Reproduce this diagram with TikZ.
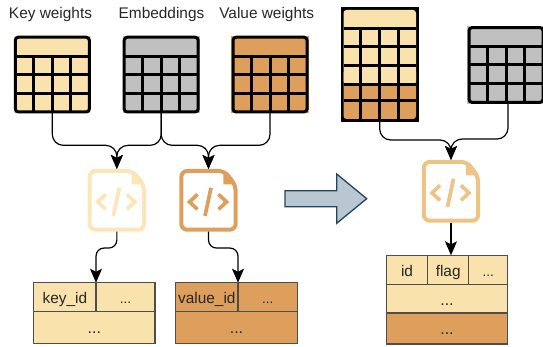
\documentclass[tikz,border=0pt]{standalone}
\usepackage{fontspec}
\setmainfont{Liberation Sans}
\usetikzlibrary{arrows.meta}
\definecolor{keyfill}{HTML}{FAE2AC}
\definecolor{valuefill}{HTML}{DD9F5B}
\definecolor{grayfill}{HTML}{C0C0C0}
\definecolor{keydocline}{HTML}{FCE5B8}
\definecolor{mergedocline}{HTML}{EEC486}
\definecolor{cellline}{HTML}{4D4D4D}
\definecolor{bigarrowfill}{HTML}{B9C7D3}
\definecolor{bigarrowline}{HTML}{23445D}
\tikzset{
	wtable/.style={draw=black, line width=3pt, rounded corners=3pt, inner sep=0pt, outer sep=0pt, minimum width=74pt, minimum height=74.7pt},
	gridline/.style={draw=black, line width=3pt},
	docbox/.style={inner sep=0pt, outer sep=0pt, minimum width=58.4pt, minimum height=62.8pt},
	link/.style={draw=black, line width=1.2pt, rounded corners=#1, -{Stealth[length=14pt, width=12pt, inset=3pt]}},
	cell/.style={draw=cellline, line width=1.4pt, anchor=north west, inner sep=0pt, outer sep=0pt, text height=12.5pt, text depth=0pt, align=center},
}
\begin{document}
\begin{tikzpicture}[x=1pt, y=-1pt, every node/.style={font=\fontsize{15.4}{17}\selectfont, text=black!85}]
	\useasboundingbox (0,0) rectangle (543,347);
	\node[anchor=base] (keylabel) at (50.5,19) {Key weights};
	\node[anchor=base] (embedlabel) at (161.5,19) {Embeddings};
	\node[anchor=base] (valuelabel) at (266.7,19) {Value weights};

	\foreach \n/\x/\y/\c in {keytable/52.3/74.6/keyfill, embedtable/161.2/74.6/grayfill, valuetable/270/74.6/valuefill, grayright/506/65/grayfill}
	{
		\fill[\c] (\x-38.7,\y-38.7) rectangle (\x+38.7,\y+38.7);
		\node[wtable, fill=\c] (\n) at (\x,\y) {};
		\foreach \d in {-18.5,0,18.5}
		{
			\draw[gridline] (\x+\d,\y-18.5) -- (\x+\d,\y+37);
			\draw[gridline] (\x-37,\y+\d) -- (\x+37,\y+\d);
		}
	}

	\node[fill=black, inner sep=0pt, outer sep=0pt, minimum width=78pt, minimum height=114.4pt] (talltable) at (379.7,64.5) {};
	\fill[valuefill, rounded corners=3pt] (343.5,70) rectangle (416,119);
	\fill[keyfill, rounded corners=3pt] (343.5,10) rectangle (416,84);
	\foreach \x in {360,379.3,398.3}
		\draw[gridline] (\x,28.3) -- (\x,119);
	\foreach \y in {28.3,46.7,65.7,85,101}
		\draw[gridline] (343.5,\y) -- (416,\y);

	\def\docicon#1#2#3{
		\draw[#3, line width=4pt, rounded corners=6pt, fill=white] (#1-27.2,#2-29.4) -- (#1+16,#2-29.4) -- (#1+27.2,#2-15) -- (#1+27.2,#2+29.4) -- (#1-27.2,#2+29.4) -- cycle;
		\fill[#3] (#1+14.8,#2-29) -- (#1+17,#2-29) -- (#1+28,#2-16) -- (#1+14.8,#2-16) -- cycle;
		\draw[#3, line width=3.7pt] (#1-11,#2-6) -- (#1-19,#2+1.6) -- (#1-11,#2+9);
		\draw[#3, line width=3.7pt] (#1+10,#2-6) -- (#1+18,#2+1.6) -- (#1+10,#2+9);
		\draw[#3, line width=3.7pt] (#1+2.5,#2-12.5) -- (#1-3.5,#2+15.5);
	}
	\foreach \n/\x/\y/\c in {keydoc/116.85/200.35/keydocline, valuedoc/208.5/200.35/valuefill, mergedoc/451/191.35/mergedocline}
	{
		\node[docbox] (\n) at (\x,\y) {};
		\docicon{\x}{\y}{\c}
	}

	\node[cell, fill=keyfill, minimum width=62.3pt, minimum height=29pt] (keyid) at (33.7,282.7) {key\_id};
	\node[cell, fill=keyfill, minimum width=59pt, minimum height=29pt] (keyrest) at (96,282.7) {\fontsize{13.5}{15}\selectfont ...};
	\node[cell, fill=keyfill, minimum width=121.3pt, minimum height=31.6pt] (keyrow) at (33.7,311.7) {\fontsize{16}{18}\selectfont ...};

	\node[cell, fill=valuefill, minimum width=62.3pt, minimum height=29pt] (valueid) at (175.7,282.7) {value\_id};
	\node[cell, fill=valuefill, minimum width=59.3pt, minimum height=29pt] (valuerest) at (238,282.7) {\fontsize{13.5}{15}\selectfont ...};
	\node[cell, fill=valuefill, minimum width=121.6pt, minimum height=31.6pt] (valuerow) at (175.7,311.7) {\fontsize{16}{18}\selectfont ...};

	\node[cell, fill=keyfill, minimum width=41.4pt, minimum height=29.4pt] (mergeid) at (386.3,255.3) {id};
	\node[cell, fill=keyfill, minimum width=41pt, minimum height=29.4pt] (mergeflag) at (427.7,255.3) {flag};
	\node[cell, fill=keyfill, minimum width=39pt, minimum height=29.4pt] (mergerest) at (468.7,255.3) {\fontsize{13.5}{15}\selectfont ...};
	\node[cell, fill=keyfill, minimum width=121.4pt, minimum height=28.3pt] (mergekey) at (386.3,284.7) {\fontsize{16}{18}\selectfont ...};
	\node[cell, fill=valuefill, minimum width=121.4pt, minimum height=31pt] (mergevalue) at (386.3,313) {\fontsize{16}{18}\selectfont ...};

	\draw[link=11pt] (keytable.south) -- ++(0,33.4) -| (keydoc.north);
	\draw[link=11pt] (embedtable.south) -- ++(0,33.4) -| (keydoc.north);
	\draw[link=11pt] (embedtable.south) -- ++(0,33.4) -| (valuedoc.north);
	\draw[link=11pt] (valuetable.south) -- ++(0,33.4) -| (valuedoc.north);
	\draw[link=8pt] (keydoc.south) -- ++(0,16.3) -| (keyid.north east);
	\draw[link=8pt] (valuedoc.south) -- ++(0,16.3) -| (valueid.north east);
	\draw[link=11pt] (talltable.south) -- ++(0,18.3) -| (mergedoc.north);
	\draw[link=11pt] ([xshift=2pt]grayright.south) -- ++(0,36.7) -| (mergedoc.north);
	\draw[link=1pt] (mergedoc.south) -- (mergedoc.south |- mergeflag.north);

	\draw[fill=bigarrowfill, draw=bigarrowline, line width=1.3pt] (285,190.7) -- (336.7,190.7) -- (336.7,174) -- (366.7,198.7) -- (336.7,223.3) -- (336.7,206.7) -- (285,206.7) -- cycle;
\end{tikzpicture}
\end{document}
